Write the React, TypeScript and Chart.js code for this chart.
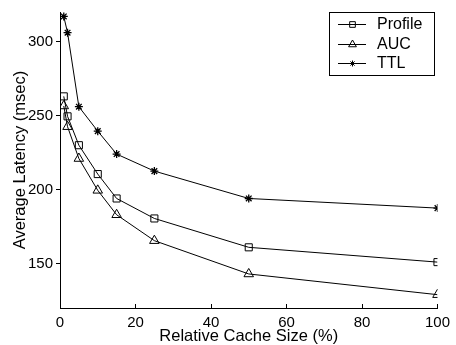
import React, { useEffect, useRef } from "react";
import { Chart, registerables } from "chart.js";

Chart.register(...registerables);

const cacheSizes = [1, 2, 5, 10, 15, 25, 50, 100];
const profileLatency = [263, 249.5, 230, 210.5, 194, 180.5, 161, 151];
const aucLatency = [256.5, 242.5, 221, 199.5, 183, 165.5, 143, 129];
const ttlLatency = [317, 306, 256, 239.5, 224, 212.5, 194, 187.5];
const seriesLabels = ["Profile", "AUC", "TTL"];
const yTickValues = [150, 200, 250, 300];
const xTickValues = [0, 20, 40, 60, 80, 100];

const FONT = "'Liberation Sans', Arial, Helvetica, sans-serif";

const innerTicks = {
  id: "innerTicks",
  afterDraw(chart: any) {
    const { ctx, chartArea, scales } = chart;
    ctx.save();
    ctx.strokeStyle = "#000";
    ctx.lineWidth = 1;
    ctx.beginPath();
    scales.x.ticks.forEach((t: any) => {
      const px = Math.round(scales.x.getPixelForValue(t.value)) + 0.5;
      ctx.moveTo(px, chartArea.bottom);
      ctx.lineTo(px, chartArea.bottom - 4);
    });
    ctx.stroke();
    ctx.restore();
  },
};

function drawMarker(ctx: CanvasRenderingContext2D, style: string, r: number, x: number, y: number) {
  ctx.beginPath();
  if (style === "rect") {
    const s = Math.SQRT1_2 * r;
    ctx.rect(x - s, y - s, 2 * s, 2 * s);
  } else if (style === "triangle") {
    for (let k = 0; k < 3; k++) {
      const a = (k * 2 * Math.PI) / 3;
      const px = x + Math.sin(a) * r;
      const py = y - Math.cos(a) * r;
      if (k === 0) ctx.moveTo(px, py);
      else ctx.lineTo(px, py);
    }
    ctx.closePath();
  } else {
    for (let k = 0; k < 4; k++) {
      const a = (k * Math.PI) / 4;
      ctx.moveTo(x - Math.cos(a) * r, y - Math.sin(a) * r);
      ctx.lineTo(x + Math.cos(a) * r, y + Math.sin(a) * r);
    }
  }
  ctx.stroke();
}

const boxLegend = {
  id: "boxLegend",
  afterDraw(chart: any) {
    const { ctx } = chart;
    const x0 = 329.5, y0 = 12.5, w = 105, h = 63;
    ctx.save();
    ctx.fillStyle = "#fff";
    ctx.fillRect(x0, y0, w, h);
    ctx.strokeStyle = "#000";
    ctx.lineWidth = 1;
    ctx.strokeRect(x0, y0, w, h);
    const rows = [24, 44, 63];
    chart.data.datasets.forEach((ds: any, i: number) => {
      const y = rows[i] + 0.5;
      ctx.strokeStyle = "#000";
      ctx.lineWidth = 1;
      ctx.beginPath();
      ctx.moveTo(338, y);
      ctx.lineTo(366, y);
      ctx.stroke();
      const legendR = ds.pointStyle === "star" ? 3 : ds.pointStyle === "rect" ? 4 : 4.5;
      drawMarker(ctx, ds.pointStyle, legendR, 352.5, y);
      ctx.fillStyle = "#000";
      ctx.font = `16px ${FONT}`;
      ctx.textBaseline = "middle";
      ctx.textAlign = "left";
      ctx.fillText(ds.label, 377, rows[i] + 1);
    });
    ctx.restore();
  },
};

export default function App() {
  const ref = useRef<HTMLCanvasElement>(null);
  useEffect(() => {
    document.body.style.margin = "0";
    const mk = (vals: number[]) => cacheSizes.map((x, i) => ({ x, y: vals[i] }));
    const common = {
      borderColor: "#000",
      backgroundColor: "rgba(0,0,0,0)",
      borderWidth: 1,
      pointBorderColor: "#000",
      pointBackgroundColor: "rgba(0,0,0,0)",
      pointBorderWidth: 1,
      tension: 0,
    };
    const chart = new Chart(ref.current!, {
      type: "line",
      data: {
        datasets: [
          { ...common, label: seriesLabels[0], data: mk(profileLatency), pointStyle: "rect", pointRadius: 5 },
          { ...common, label: seriesLabels[1], data: mk(aucLatency), pointStyle: "triangle", pointRadius: 5.5 },
          { ...common, label: seriesLabels[2], data: mk(ttlLatency), pointStyle: "star", pointRadius: 4, pointBorderWidth: 1.3 },
        ],
      },
      options: {
        animation: false,
        responsive: false,
        layout: { padding: { top: 8, right: 18, left: 0, bottom: 0 } },
        plugins: { legend: { display: false }, tooltip: { enabled: false } },
        scales: {
          x: {
            type: "linear",
            min: 0,
            max: 100,
            afterBuildTicks: (s: any) => { s.ticks = xTickValues.map((v) => ({ value: v })); },
            afterFit: (s: any) => { s.height = 37; },
            grid: { display: true, drawOnChartArea: false, drawTicks: false, color: "#000" },
            border: { display: true, color: "#000", width: 1 },
            ticks: { color: "#000", font: { family: FONT, size: 15 }, padding: 6, maxRotation: 0 },
            title: {
              display: true,
              text: "Relative Cache Size (%)",
              color: "#000",
              font: { family: FONT, size: 16.5, lineHeight: 1 },
              padding: { top: 0, bottom: 0 },
            },
          },
          y: {
            type: "linear",
            min: 120,
            max: 320,
            afterBuildTicks: (s: any) => { s.ticks = yTickValues.map((v) => ({ value: v })); },
            afterFit: (s: any) => { s.width = 60; },
            grid: { display: true, drawOnChartArea: false, drawTicks: true, tickLength: 4, color: "#000" },
            border: { display: true, color: "#000", width: 1 },
            ticks: { color: "#000", font: { family: FONT, size: 15 }, padding: 3 },
            title: {
              display: true,
              text: "Average Latency (msec)",
              color: "#000",
              font: { family: FONT, size: 16.5, lineHeight: 1 },
              padding: { top: 12, bottom: 0 },
            },
          },
        },
      },
      plugins: [innerTicks, boxLegend],
    } as any);
    return () => chart.destroy();
  }, []);
  return (
    <div style={{ width: 456, height: 345 }}>
      <canvas ref={ref} width={456} height={345} style={{ display: "block" }} />
    </div>
  );
}
